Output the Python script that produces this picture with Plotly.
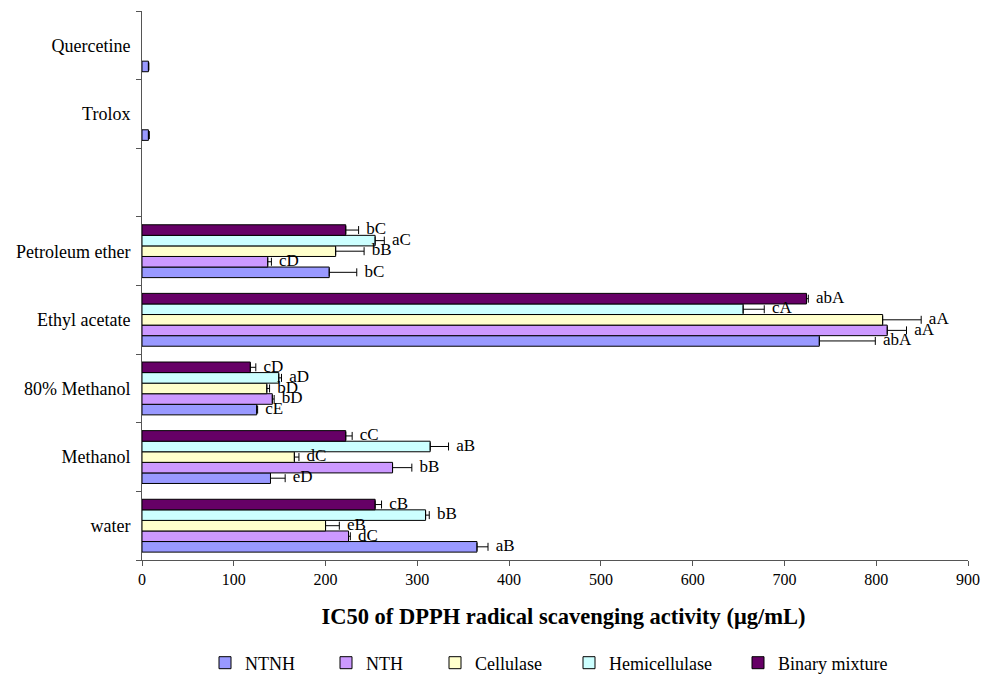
import plotly.graph_objects as go

categories = ["water", "Methanol", "80% Methanol", "Ethyl acetate", "Petroleum ether", " ", "Trolox", "Quercetine"]
series_names = ["NTNH", "NTH", "Cellulase", "Hemicellulase", "Binary mixture"]
colors = ["#9999FF", "#CC99FF", "#FFFFCC", "#CCFFFF", "#660066"]

ntnh = [365, 140, 125, 738, 204, None, 7, 7]
nth = [225, 273, 142, 812, 137, None, None, None]
cellulase = [200, 166, 136, 807, 211, None, None, None]
hemicellulase = [309, 314, 149, 655, 254, None, None, None]
binary = [254, 222, 118, 724, 222, None, None, None]

ntnh_err = [12, 16, 1, 61, 30, None, 1, 0.5]
nth_err = [2, 21, 2, 21, 4, None, None, None]
cellulase_err = [15, 5, 3, 42, 31, None, None, None]
hemicellulase_err = [4, 20, 3, 23, 10, None, None, None]
binary_err = [7, 7, 6, 2, 14, None, None, None]

ntnh_lbl = ["aB", "eD", "cE", "abA", "bC", "", "", ""]
nth_lbl = ["dC", "bB", "bD", "aA", "cD", "", "", ""]
cellulase_lbl = ["eB", "dC", "bD", "aA", "bB", "", "", ""]
hemicellulase_lbl = ["bB", "aB", "aD", "cA", "aC", "", "", ""]
binary_lbl = ["cB", "cC", "cD", "abA", "bC", "", "", ""]

values = [ntnh, nth, cellulase, hemicellulase, binary]
errors = [ntnh_err, nth_err, cellulase_err, hemicellulase_err, binary_err]
labels = [ntnh_lbl, nth_lbl, cellulase_lbl, hemicellulase_lbl, binary_lbl]

FONT = "Liberation Serif"
AXC = "#555555"
W, H = 993, 668  # page body has an 8px margin in the browser
legend_keys = ["legend", "legend2", "legend3", "legend4", "legend5"]
legend_text_px = [245, 366, 475, 609, 778]  # where each legend entry's text starts (page px)

fig = go.Figure()

for name, col, vals, errs, lk in zip(series_names, colors, values, errors, legend_keys):
    fig.add_trace(go.Bar(
        y=categories, x=vals, orientation="h", name=name, legend=lk,
        marker=dict(color=col, line=dict(color="black", width=1)),
        error_x=dict(type="data", array=[e if e is not None else 0 for e in errs],
                     arrayminus=[0] * len(errs), symmetric=False,
                     color="black", thickness=1, width=4),
    ))

for name, vals, errs, lbls in zip(series_names, values, errors, labels):
    xs = [(v + e) if (v is not None and e is not None and l) else None
          for v, e, l in zip(vals, errs, lbls)]
    fig.add_trace(go.Scatter(
        y=categories, x=xs, orientation="h", mode="text",
        text=[" \u2009" + l for l in lbls], textposition="middle right",
        textfont=dict(family=FONT, size=17, color="black"),
        showlegend=False, hoverinfo="skip", cliponaxis=False,
    ))

legend_layouts = {}
for lk, tx in zip(legend_keys, legend_text_px):
    legend_layouts[lk] = dict(
        orientation="h", xref="container", yref="container",
        x=(tx - 48) / W, xanchor="left", y=(H - 655) / H, yanchor="middle",
        font=dict(family=FONT, size=18), bgcolor="rgba(0,0,0,0)",
    )

fig.update_layout(
    width=W, height=H,
    barmode="group", bargap=0.23, bargroupgap=0,
    scattermode="group", scattergap=0.23,
    plot_bgcolor="white", paper_bgcolor="white",
    margin=dict(l=134, r=33, t=3, b=116),
    font=dict(family=FONT, size=16, color="black"),
    xaxis=dict(range=[0, 900], dtick=100, showgrid=False, zeroline=False,
               showline=True, linecolor=AXC, linewidth=1, automargin=False,
               ticks="outside", ticklen=5, tickcolor=AXC,
               tickfont=dict(family=FONT, size=16),
               title=dict(text="<b>\u00a0\u00a0\u00a0IC50 of DPPH radical scavenging activity (μg/mL)</b>",
                          font=dict(family=FONT, size=22.5), standoff=21)),
    yaxis=dict(type="category", categoryorder="array", categoryarray=categories,
               range=[-0.5, 7.5], showgrid=False, zeroline=False,
               showline=True, linecolor=AXC, linewidth=1, automargin=False,
               ticks="outside", ticklen=5, tickcolor=AXC, tickson="boundaries",
               tickfont=dict(family=FONT, size=18), ticklabelstandoff=7),
    **legend_layouts,
)

fig.write_html("out.html")
